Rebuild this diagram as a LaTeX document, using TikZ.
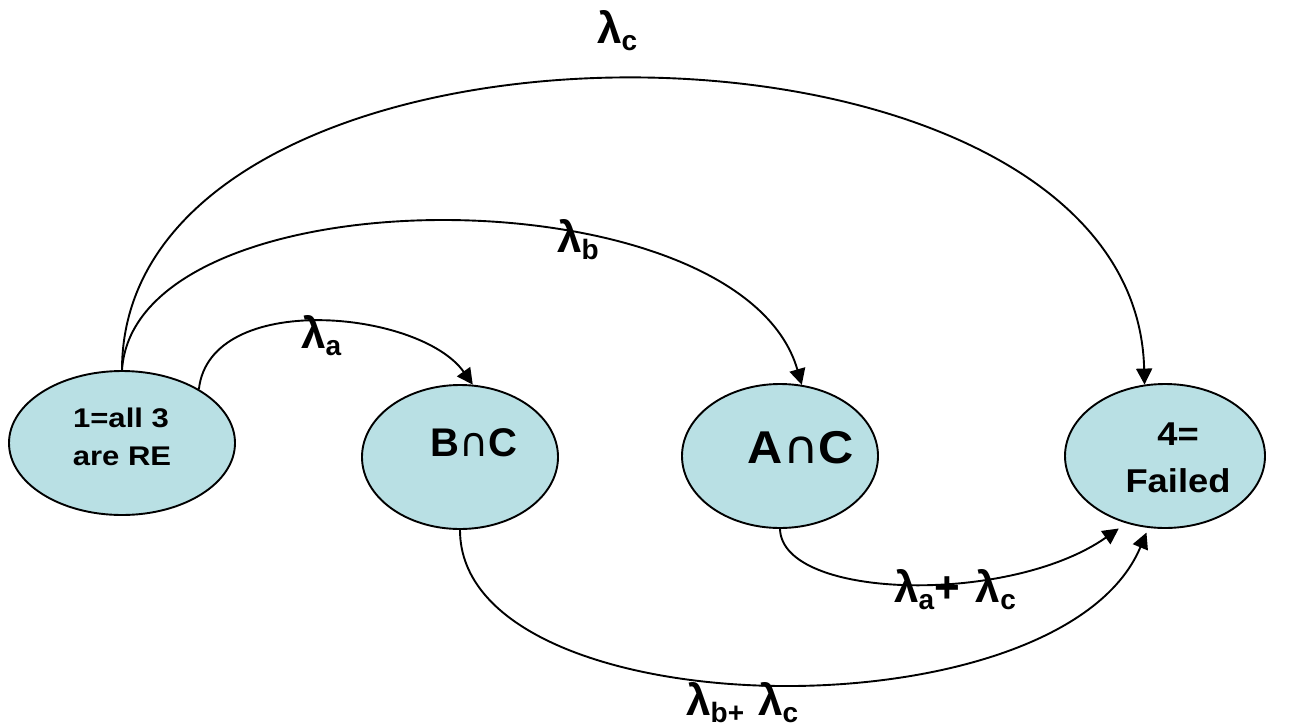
\documentclass[tikz,border=0pt]{standalone}
\usepackage{fontspec}
\setmainfont{Liberation Sans}
\newfontfamily\djv{DejaVu Sans}
\usetikzlibrary{arrows.meta,shapes.geometric}
\definecolor{fillc}{HTML}{B9E0E4}
\newcommand\lamb{{\fontsize{44}{44}\selectfont λ}}
\newcommand\lsub[1]{\raisebox{-7pt}{\fontsize{28}{28}\selectfont #1}}
\begin{document}
\begin{tikzpicture}[x=1pt,y=-1pt,
  state/.style={ellipse, draw=black, line width=1.9pt, fill=fillc, inner sep=0pt, minimum height=144pt},
  tr/.style={line width=1.9pt, -{Triangle[length=16pt,width=16pt]}},
  lab/.style={anchor=base west, inner sep=0pt, font=\bfseries},
  txt/.style={anchor=base, inner sep=0pt, font=\bfseries}]
\useasboundingbox (0,0) rectangle (1295,726);
% states
\node[state, minimum width=226pt] (n1) at (122,443) {};
\node[state, minimum width=196pt] (bc) at (460,457) {};
\node[state, minimum width=196pt] (ac) at (780,456) {};
\node[state, minimum width=200pt] (fl) at (1165,456) {};
% state texts
\node[txt] (t1a) at (121,427) {\fontsize{27}{27}\selectfont\scalebox{1.15}[1]{1=all 3}};
\node[txt] (t1b) at (122,465) {\fontsize{27}{27}\selectfont\scalebox{1.15}[1]{are RE}};
\node[txt] (tbc) at (474,456) {\fontsize{40}{40}\selectfont B{\djv\mdseries ∩}C};
\node[txt] (tac) at (801,463) {\fontsize{46}{46}\selectfont\scalebox{1.06}[1]{A{\djv\mdseries ∩}C}};
\node[txt] (tfa) at (1178,445) {\fontsize{33}{33}\selectfont\scalebox{1.1}[1]{4=}};
\node[txt] (tfb) at (1178,492) {\fontsize{33}{33}\selectfont\scalebox{1.1}[1]{Failed}};
% transitions
\draw[tr] (n1.north) .. controls (122,-20) and (1135,-20) .. (fl.106);
\draw[tr] (n1.north) .. controls (135,170) and (740,170) .. (ac.73);
\draw[tr] (n1.35) .. controls (210,290) and (420,310) .. (bc.80);
\draw[tr, shorten >=9pt] (ac.south) .. controls (782,600) and (1010,605) .. (fl.240);
\draw[tr, shorten >=5pt] (bc.south) .. controls (460,730) and (1060,740) .. (fl.257);
% rate labels
\node[lab] (lc) at (597,43) {\lamb\lsub{c}};
\node[lab] (lb) at (557,252) {\lamb\lsub{b}};
\node[lab] (la) at (301,348) {\lamb\lsub{a}};
\node[lab] (lac) at (894,602) {\lamb\lsub{a}{\fontsize{44}{44}\selectfont +}\hspace{16pt}\lamb\lsub{c}};
\node[lab] (lbc) at (686,715) {\lamb\lsub{b+}\hspace{14pt}\lamb\lsub{c}};
\end{tikzpicture}
\end{document}
